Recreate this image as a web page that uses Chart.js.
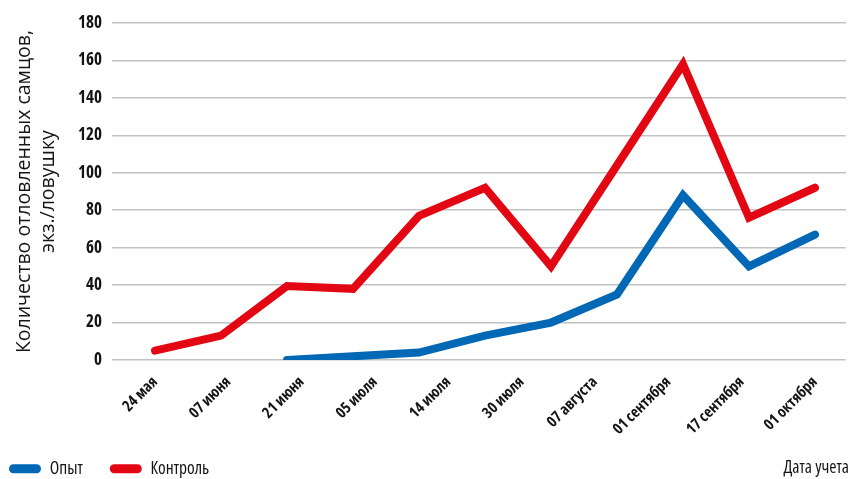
<!DOCTYPE html>
<html><head><meta charset="utf-8">
<script src="https://cdn.jsdelivr.net/npm/chart.js@4/dist/chart.umd.min.js"></script>
<style>html,body{margin:0;padding:0;background:#fff}#wrap{width:851px;height:479px;position:relative}</style>
</head><body><div id="wrap"><canvas id="c"></canvas></div>
<script>
const dateLabels = ['24 мая','07 июня','21 июня','05 июля','14 июля','30 июля','07 августа','01 сентября','17 сентября','01 октября'];
const seriesNames = ['Опыт','Контроль'];
const opyt =    [null, null, 0, 2, 4, 13, 20, 35, 88, 50, 67];
const kontrol = [5, 13, 39.5, 38, 77, 92, 50, 104, 158, 76, 92];
const yTickValues = [0,20,40,60,80,100,120,140,160,180];
const yAxisTitle = ['Количество отловленных самцов,','экз./ловушку'];
const xAxisTitle = 'Дата учета';

const FAM = "'Open Sans','Noto Sans',sans-serif";
const TXT = '#151515';
const pointIdx = kontrol.map((_, i) => i);

const extras = {
  id: 'extras',
  afterLayout(chart) {
    const lg = chart.legend;
    lg.left -= 18;
    lg.top -= 16;
  },
  afterDraw(chart) {
    const lg = chart.legend;
    const ctx = chart.ctx;
    const y = lg.top + lg.options.labels.padding + 17 / 2;
    ctx.save();
    ctx.font = 'semi-condensed 17.5px ' + FAM;
    ctx.fillStyle = TXT;
    ctx.textAlign = 'right';
    ctx.textBaseline = 'middle';
    ctx.fillText(xAxisTitle, chart.width - 2, y);
    ctx.restore();
  }
};

new Chart(document.getElementById('c'), {
  type: 'line',
  data: {
    labels: pointIdx,
    datasets: [
      { label: seriesNames[0], data: opyt, borderColor: '#0068b4', backgroundColor: '#0068b4',
        borderWidth: 8, pointRadius: 0, borderCapStyle: 'round', borderJoinStyle: 'miter', tension: 0 },
      { label: seriesNames[1], data: kontrol, borderColor: '#e30613', backgroundColor: '#e30613',
        borderWidth: 8, pointRadius: 0, borderCapStyle: 'round', borderJoinStyle: 'miter', tension: 0 }
    ]
  },
  options: {
    responsive: true, maintainAspectRatio: false, animation: false, devicePixelRatio: 1,
    layout: { padding: { left: 0, right: 5, top: 23, bottom: 0 } },
    plugins: {
      tooltip: { enabled: false },
      legend: {
        position: 'bottom', align: 'start', maxHeight: 30,
        labels: {
          font: { family: FAM, size: 17.5, weight: 'condensed' }, color: TXT,
          boxWidth: 32, boxHeight: 9, useBorderRadius: true, borderRadius: 4.5, padding: 27,
          generateLabels(chart) {
            const items = Chart.defaults.plugins.legend.labels.generateLabels(chart);
            items.forEach(it => { it.lineWidth = 0; });
            return items;
          }
        }
      }
    },
    scales: {
      x: {
        type: 'linear', min: -0.652, max: 10.47,
        grid: { display: false }, border: { display: false },
        afterBuildTicks(scale) {
          const f = (kontrol.length - 1) / (dateLabels.length - 1);
          scale.ticks = dateLabels.map((_, i) => ({ value: i * f }));
        },
        afterFit(scale) { scale.height = 89; },
        ticks: {
          autoSkip: false, maxRotation: 45, minRotation: 45, padding: 5,
          font: { family: FAM, size: 15.5, weight: 'bold condensed' }, color: TXT,
          callback: (v, i) => dateLabels[i]
        }
      },
      y: {
        min: 0, max: 180,
        afterBuildTicks(scale) { scale.ticks = yTickValues.map(v => ({ value: v })); },
        afterFit(scale) { scale.width = 112; },
        grid: { color: '#c2c2c2', lineWidth: 1.5, drawTicks: false },
        border: { display: false },
        ticks: { padding: 10, font: { family: FAM, size: 17, weight: 'bold condensed' }, color: TXT },
        title: { display: true, text: yAxisTitle, color: TXT,
          font: { family: FAM, size: 19.5, weight: '500', lineHeight: 1.23 }, padding: { top: 12, bottom: 0 } }
      }
    }
  },
  plugins: [extras]
});
</script>
</body></html>
